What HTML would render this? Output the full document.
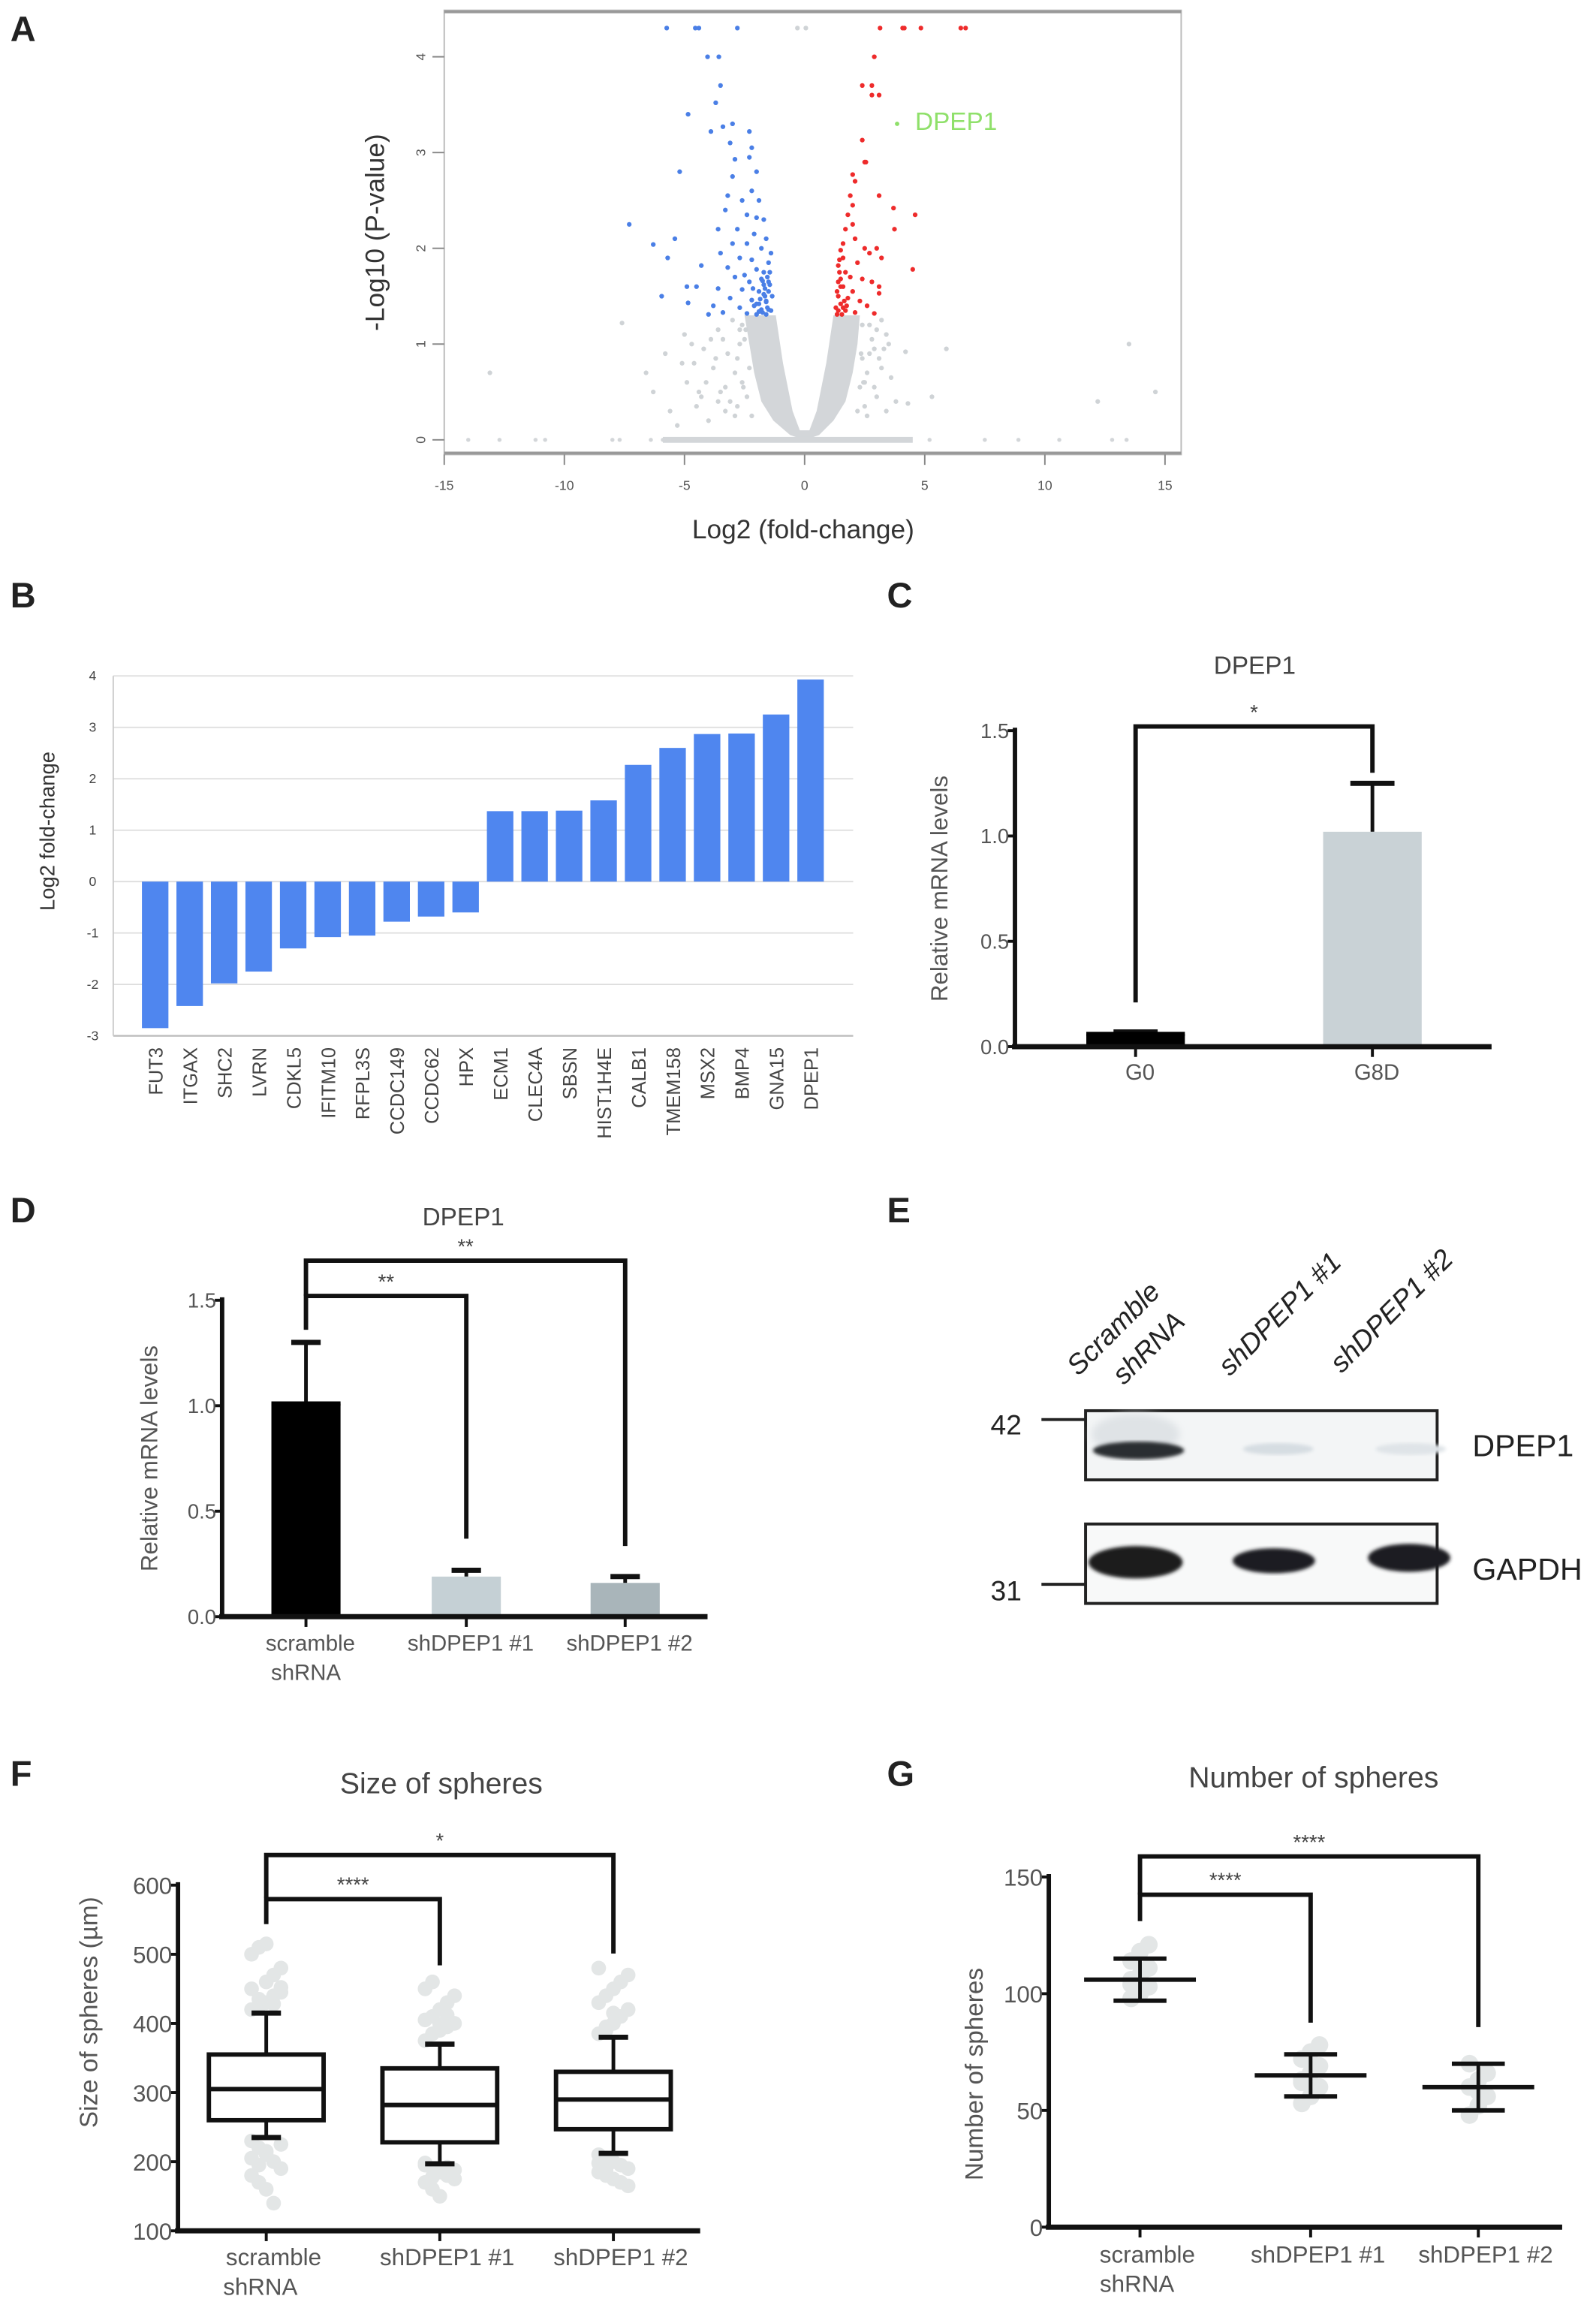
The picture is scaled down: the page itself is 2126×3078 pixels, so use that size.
<!DOCTYPE html>
<html><head><meta charset="utf-8"><style>
html,body{margin:0;padding:0;background:#fff}
svg{display:block}
text{font-family:"Liberation Sans",sans-serif}
</style></head><body>
<svg id="fig" xmlns="http://www.w3.org/2000/svg" width="2126" height="3078" viewBox="0 0 1085 1571" preserveAspectRatio="none">
<rect x="0" y="0" width="1085" height="1571" fill="#fff"/>
<g font-weight="bold" font-size="24" fill="#222">
<text x="7" y="28">A</text>
<text x="7" y="413">B</text>
<text x="603" y="413">C</text>
<text x="7" y="831">D</text>
<text x="603" y="831">E</text>
<text x="7" y="1214">F</text>
<text x="603" y="1214">G</text>
</g>
<g>
<g font-size="19" fill="#222" font-style="italic">
<text transform="translate(733,936) rotate(-45)">Scramble</text>
<text transform="translate(764,942) rotate(-45)">shRNA</text>
<text transform="translate(836,936) rotate(-45)">shDPEP1 #1</text>
<text transform="translate(912,934) rotate(-45)">shDPEP1 #2</text>
</g>
<defs>
<filter id="blur"><feGaussianBlur stdDeviation="2.5"/></filter>
<filter id="blur2"><feGaussianBlur stdDeviation="1.2"/></filter>
</defs>
<rect x="738" y="959" width="239" height="47" fill="#f3f5f6" stroke="#222" stroke-width="2"/>
<ellipse cx="772" cy="975" rx="30" ry="14" fill="#dfe3e6" filter="url(#blur)"/>
<ellipse cx="774" cy="986" rx="31" ry="6" fill="#2a2f33" filter="url(#blur2)"/>
<ellipse cx="869" cy="985" rx="24" ry="4" fill="#d6dde2" filter="url(#blur2)"/>
<ellipse cx="959" cy="985" rx="24" ry="4" fill="#dfe4e8" filter="url(#blur2)"/>
<rect x="738" y="1036" width="239" height="54" fill="#f8f9f9" stroke="#222" stroke-width="2"/>
<ellipse cx="772" cy="1062" rx="32" ry="11" fill="#1a1d1f" filter="url(#blur2)"/>
<ellipse cx="866" cy="1061" rx="28" ry="8.5" fill="#1c1f21" filter="url(#blur2)"/>
<ellipse cx="958" cy="1059" rx="28" ry="9.5" fill="#1c1f21" filter="url(#blur2)"/>
<line x1="708" y1="965" x2="738" y2="965" stroke="#222" stroke-width="2"/>
<line x1="708" y1="1077" x2="738" y2="1077" stroke="#222" stroke-width="2"/>
<text x="684" y="975" font-size="19" fill="#222" text-anchor="middle">42</text>
<text x="684" y="1088" font-size="19" fill="#222" text-anchor="middle">31</text>
<text x="1001" y="990" font-size="21" fill="#222">DPEP1</text>
<text x="1001" y="1074" font-size="21" fill="#222">GAPDH</text>
</g>
</svg>
<script>
// ===== Panel A data (volcano) =====
const volBlueX=[-5.74,-4.55,-4.4,-2.8,-4.04,-3.57,-3.5,-3.7,-4.85,-3.0,-3.4,-3.9,-2.3,-3.1,-2.2,-2.3,-2.9,-5.2,-3.0,-2.0,-2.2,-3.2,-2.6,-1.9,-3.3,-2.4,-2.0,-1.7,-7.3,-3.6,-2.8,-2.1,-1.6,-5.4,-3.0,-2.4,-6.3,-1.8,-3.5,-2.7,-5.7,-2.2,-1.5,-4.3,-3.2,-2.0,-1.7,-2.9,-2.3,-1.5,-4.9,-4.5,-3.6,-2.6,-1.9,-5.95,-3.1,-2.2,-1.6,-4.85,-3.8,-2.7,-1.8,-1.4,-3.4,-2.4,-2.0,-1.6,-4.0,-1.5,-1.7,-1.9,-1.45,-1.65,-1.8,-2.1,-1.55,-1.4,-1.75,-2.5,-2.15,-1.85,-1.5,-1.6,-1.7,-1.45,-1.55,-1.9,-2.0,-1.35,-1.65,-1.75];
const volBlueY=[4.3,4.3,4.3,4.3,4.0,4.0,3.7,3.52,3.4,3.3,3.27,3.22,3.22,3.1,3.05,2.95,2.93,2.8,2.75,2.8,2.6,2.55,2.5,2.5,2.4,2.35,2.32,2.3,2.25,2.2,2.2,2.15,2.1,2.1,2.05,2.05,2.04,2.0,1.95,1.9,1.9,1.88,1.85,1.82,1.8,1.78,1.75,1.7,1.65,1.65,1.6,1.6,1.58,1.57,1.55,1.5,1.48,1.46,1.45,1.43,1.4,1.38,1.36,1.35,1.33,1.32,1.31,1.31,1.31,1.55,1.62,1.42,1.75,1.5,1.68,1.4,1.38,1.95,1.33,1.72,1.58,1.47,1.36,1.44,1.52,1.62,1.7,1.34,1.42,1.5,1.58,1.66];
const volRedX=[3.14,4.08,4.15,4.84,6.5,6.7,2.9,2.4,2.8,2.8,3.1,2.4,2.55,2.5,2.0,2.1,1.9,3.1,2.0,3.7,4.6,1.8,2.0,3.74,1.7,2.1,1.6,3.0,2.5,1.5,2.7,3.2,1.6,2.2,1.4,4.5,1.7,1.9,2.4,1.4,2.8,3.1,1.6,2.0,3.1,1.4,1.8,2.3,1.5,2.6,1.3,1.7,2.1,1.35,2.9,1.55,1.45,1.5,1.65,1.35,1.75,1.4,1.5,1.6,1.45];
const volRedY=[4.3,4.3,4.3,4.3,4.3,4.3,4.0,3.7,3.7,3.6,3.6,3.13,2.9,2.9,2.77,2.7,2.55,2.55,2.45,2.42,2.35,2.35,2.25,2.2,2.2,2.1,2.05,2.0,2.0,1.98,1.95,1.9,1.9,1.85,1.82,1.78,1.75,1.7,1.68,1.65,1.65,1.6,1.6,1.55,1.53,1.5,1.48,1.45,1.42,1.4,1.38,1.35,1.33,1.31,1.32,1.31,1.75,1.6,1.45,1.55,1.4,1.35,1.68,1.38,1.88];
const volGrayX=[-0.3,0.05,-7.6,-13.1,13.5,14.6,12.2,5.9,4.2,5.3,4.3,-6.6,-5.8,-5.0,-6.3,-5.6,-4.9,-4.2,-3.6,-4.5,-3.3,-3.8,-2.8,-4.0,3.5,3.0,3.2,3.6,2.9,3.8,2.6,3.4,-5.3,2.4,-2.6,-3.2,-2.9,-4.6,-3.1,-2.7,2.7,3.0,2.5,-3.5,-4.1,3.3,-2.5,-2.8,-3.0,-2.6,-3.4,-2.4,-3.7,-2.9,-2.7,-4.4,-3.9,2.4,2.6,2.8,2.5,3.1,2.7,2.3,2.9,3.4,-2.3,-2.55,-2.45,2.35,2.45,-3.3,-3.6,3.2,-2.2,2.2,-5.1,-4.7,-4.3];
const volGrayY=[4.3,4.3,1.22,0.7,1.0,0.5,0.4,0.95,0.92,0.45,0.38,0.7,0.9,1.1,0.5,0.3,0.6,0.95,1.15,0.35,0.55,0.75,0.35,0.2,1.0,1.15,0.75,0.65,0.55,0.4,0.25,0.3,0.15,1.2,1.2,0.9,0.7,0.8,0.4,1.0,0.9,0.45,0.6,0.5,0.6,0.95,1.05,0.85,1.25,0.6,1.05,0.45,0.85,0.25,1.15,0.5,1.05,0.85,0.7,1.05,0.35,0.85,1.2,0.55,0.95,1.1,0.75,0.55,1.15,0.9,0.6,0.3,0.4,1.25,0.25,0.3,0.8,1.0,0.45];
const volBaseX=[-14,-12.7,-11.2,-10.8,-8,-7.7,-6.4,-5.9,-5.6,5.2,7.5,8.9,10.6,12.8,13.4];
const volDenseX=[-2.5,-2.3,-2.1,-1.8,-1.3,-0.6,0,0.6,1.2,1.7,2.0,2.2,2.3,1.2,0.9,0.5,0.2,-0.2,-0.5,-0.9,-1.2];
const volDenseY=[1.3,1.0,0.7,0.4,0.2,0.05,0,0.05,0.2,0.4,0.7,1.0,1.3,1.3,0.8,0.3,0.1,0.1,0.3,0.8,1.3];
const volXTicks=[-15,-10,-5,0,5,10,15];
const volYTicks=[0,1,2,3,4];
// ===== Panel B data =====
const genes=["FUT3","ITGAX","SHC2","LVRN","CDKL5","IFITM10","RFPL3S","CCDC149","CCDC62","HPX","ECM1","CLEC4A","SBSN","HIST1H4E","CALB1","TMEM158","MSX2","BMP4","GNA15","DPEP1"];
const geneFC=[-2.85,-2.42,-1.98,-1.75,-1.3,-1.08,-1.05,-0.78,-0.68,-0.6,1.37,1.37,1.38,1.58,2.27,2.6,2.87,2.88,3.25,3.93];
const fcTicks=[-3,-2,-1,0,1,2,3,4];
// ===== Panel C data =====
const cGroups=["G0","G8D"];
const cMeans=[0.06,1.02];
const cErr=[0.01,0.23];
const cTicks=["0.0","0.5","1.0","1.5"];
// ===== Panel D data =====
const dGroups=["scramble|shRNA","shDPEP1 #1","shDPEP1 #2"];
const dMeans=[1.01,0.19,0.16];
const dErr=[0.29,0.03,0.03];
const dTicks=["0.0","0.5","1.0","1.5"];
// ===== Panel F data =====
const fGroups=["scramble|shRNA","shDPEP1 #1","shDPEP1 #2"];
const fQ1=[260,228,247];
const fMed=[305,282,290];
const fQ3=[355,335,330];
const fWLo=[235,197,212];
const fWHi=[415,370,380];
const fOutHi1=[420,425,430,440,445,450,435,460,470,480,500,510,515,428,452];
const fOutLo1=[230,220,210,200,190,180,170,160,140,225,205,195,215];
const fOutHi2=[375,385,390,395,400,405,410,420,430,440,450,460,398,412];
const fOutLo2=[195,190,185,180,175,170,160,150,192,188,198,178];
const fOutHi3=[385,390,400,410,420,430,440,450,460,470,480,395,415];
const fOutLo3=[210,205,200,195,190,185,180,175,170,165,198,188];
const fTicks=[100,200,300,400,500,600];
// ===== Panel G data =====
const gGroups=["scramble|shRNA","shDPEP1 #1","shDPEP1 #2"];
const gMeans=[106,65,60];
const gSD=[9,9,10];
const gPts1=[98,100,103,106,108,111,114,118,121,104];
const gPts2=[53,56,60,63,66,69,72,75,78,62];
const gPts3=[48,52,56,60,63,66,70,58];
const gTicks=[0,50,100,150];

const NS="http://www.w3.org/2000/svg";
const svg=document.getElementById('fig');
function mk(tag,attrs,parent){const e=document.createElementNS(NS,tag);for(const k in attrs)e.setAttribute(k,attrs[k]);(parent||svg).appendChild(e);return e;}
function txt(s,attrs,parent){const e=mk('text',attrs,parent);e.textContent=s;return e;}

// ---------- Panel A ----------
(function(){
const xs=v=>547+v*(792-302)/30, ys=v=>299-v*65.1;
const g=mk('g',{});


const box=mk('rect',{x:302,y:7,width:501,height:302,fill:'none',stroke:'#bbb','stroke-width':1},g);


mk('line',{x1:302,y1:8,x2:803,y2:8,stroke:'#999','stroke-width':2},g);
mk('line',{x1:302,y1:308,x2:803,y2:308,stroke:'#999','stroke-width':2},g);
let pts=volDenseX.map((x,i)=>xs(x)+','+ys(volDenseY[i])).join(' ');
const poly=mk('polygon',{points:pts,fill:'#d3d6d9'},g);


const base=mk('rect',{x:xs(-5.9),y:ys(0)-2,width:xs(4.5)-xs(-5.9),height:4,fill:'#d3d6d9'},g);


volBaseX.forEach(x=>{const c=mk('circle',{cx:xs(x),cy:ys(0),r:1.4,fill:'#d3d6d9'},g);

});
volGrayX.forEach((x,i)=>{const c=mk('circle',{cx:xs(x),cy:ys(volGrayY[i]),r:1.6,fill:'#cfd3d6'},g);

});
volBlueX.forEach((x,i)=>{const c=mk('circle',{cx:xs(x),cy:ys(volBlueY[i]),r:1.6,fill:'#4a7fe6'},g);

});
volRedX.forEach((x,i)=>{const c=mk('circle',{cx:xs(x),cy:ys(volRedY[i]),r:1.6,fill:'#ee2b2b'},g);

});
const dp=mk('circle',{cx:xs(3.85),cy:ys(3.3),r:1.5,fill:'#8fe06a'},g);


const dl=txt('DPEP1',{x:xs(4.6),y:ys(3.25)+1,'font-size':17,fill:'#8fe06a'},g);


volXTicks.forEach(t=>{mk('line',{x1:xs(t),y1:309,x2:xs(t),y2:316,stroke:'#888'},g);
const l=txt(String(t),{x:xs(t),y:333,'font-size':9,fill:'#555','text-anchor':'middle'},g);

});
volYTicks.forEach(t=>{mk('line',{x1:294,y1:ys(t),x2:302,y2:ys(t),stroke:'#888'},g);
const l=txt(String(t),{transform:`translate(289,${ys(t)}) rotate(-90)`,'font-size':9,fill:'#555','text-anchor':'middle'},g);

});
const yt=txt('-Log10 (P-value)',{transform:'translate(261,158) rotate(-90)','font-size':18,fill:'#333','text-anchor':'middle'},g);


const xt=txt('Log2 (fold-change)',{x:546,y:366,'font-size':18,fill:'#333','text-anchor':'middle'},g);


})();

// ---------- Panel B ----------
(function(){
const ys=v=>599.3-v*34.95, xs=i=>105.5+i*23.45;
const g=mk('g',{});


fcTicks.forEach(t=>{mk('line',{x1:77,y1:ys(t),x2:580,y2:ys(t),stroke:t===-3?'#bbb':'#ddd','stroke-width':t===-3?1.2:0.9},g);
const l=txt(String(t),{x:63,y:ys(t)+3,'font-size':9,fill:'#444','text-anchor':'middle'},g);

});
mk('line',{x1:77,y1:ys(4),x2:77,y2:ys(-3),stroke:'#ccc'},g);
geneFC.forEach((v,i)=>{const y0=ys(0),y1=ys(v);
const r=mk('rect',{x:xs(i)-9,y:Math.min(y0,y1),width:18,height:Math.abs(y1-y0),fill:'#4f86ef'},g);


const l=txt(genes[i],{transform:`translate(${xs(i)+5},712) rotate(-90)`,'font-size':13,fill:'#444','text-anchor':'end'},g);

});
const yt=txt('Log2 fold-change',{transform:'translate(37,565) rotate(-90)','font-size':14,fill:'#333','text-anchor':'middle'},g);


})();

function barChart(o){
const g=mk('g',{});


const ys=v=>o.y0-v*o.unit;
const t=txt(o.title,{x:o.titleX,y:o.titleY,'font-size':17,fill:'#444','text-anchor':'middle'},g);


o.means.forEach((m,i)=>{const cx=o.xc[i];
const eb=mk('line',{x1:cx,y1:ys(m),x2:cx,y2:ys(m+o.err[i]),stroke:'#111','stroke-width':2.5},g);


mk('line',{x1:cx-o.cap,y1:ys(m+o.err[i]),x2:cx+o.cap,y2:ys(m+o.err[i]),stroke:'#111','stroke-width':3.5},g);
const r=mk('rect',{x:cx-o.bw/2,y:ys(m),width:o.bw,height:ys(0)-ys(m),fill:o.colors[i]},g);


if(o.colors[i]==='#000'){mk('line',{x1:cx-o.bw/2,y1:ys(m),x2:cx+o.bw/2,y2:ys(m),stroke:'#000','stroke-width':3},g);}
mk('line',{x1:cx,y1:ys(0),x2:cx,y2:ys(0)+7,stroke:'#111','stroke-width':2},g);
o.labels[i].split('|').forEach((s,k)=>{const l=txt(s,{x:cx+(k?0:3),y:o.labY+k*20,'font-size':15,fill:'#555','text-anchor':'middle'},g);

});
});
const ax=mk('line',{x1:o.ax,y1:ys(0)+1.5,x2:o.ax,y2:ys(1.5)-2,stroke:'#111','stroke-width':3},g);


const xa=mk('line',{x1:o.ax-2,y1:ys(0),x2:o.axEnd,y2:ys(0),stroke:'#111','stroke-width':3.5},g);


o.ticks.forEach(tk=>{const v=parseFloat(tk);mk('line',{x1:o.ax-5,y1:ys(v),x2:o.ax,y2:ys(v),stroke:'#111','stroke-width':2},g);
const l=txt(tk,{x:o.ax-4,y:ys(v)+5,'font-size':14,fill:'#555','text-anchor':'end'},g);

});
const yt=txt('Relative mRNA levels',{transform:`translate(${o.ytX},${ys(0.75)}) rotate(-90)`,'font-size':16,fill:'#555','text-anchor':'middle'},g);


return {g,ys};
}
function bracket(g,x1,x2,y,y1b,y2b,label){
const p=mk('path',{d:`M${x1},${y1b} L${x1},${y} L${x2},${y} L${x2},${y2b}`,fill:'none',stroke:'#111','stroke-width':3},g);


const t=txt(label,{x:(x1+x2)/2,y:y-5,'font-size':14,fill:'#444','text-anchor':'middle'},g);


}

(function(){
const c=barChart({name:'panel-c-bar-chart',y0:711.5,unit:143.2,xc:[772,933],bw:67,cap:15,means:cMeans,err:cErr,colors:['#000','#c9d2d6'],labels:cGroups,labY:734,ticks:cTicks,ax:690,axEnd:1014,title:'DPEP1',titleX:853,titleY:458,ytX:644});
bracket(c.g,772,933,c.ys(1.52),c.ys(0.21),c.ys(1.3),'*');
})();
(function(){
const c=barChart({name:'panel-d-bar-chart',y0:1099,unit:143.4,xc:[208,317,425],bw:47,cap:10,means:dMeans,err:dErr,colors:['#000','#c5d0d5','#a9b5ba'],labels:dGroups,labY:1122,ticks:dTicks,ax:151,axEnd:481,title:'DPEP1',titleX:315,titleY:833,ytX:107});
bracket(c.g,208,317,881,904,1046,'**');
bracket(c.g,208,425,857,881,1051,'**');
})();

(function(){
const ys=v=>1281.5-(v-600)*0.47, xc=[181,299,417];
const g=mk('g',{});


const t=txt('Size of spheres',{x:300,y:1219,'font-size':20,fill:'#444','text-anchor':'middle'},g);


const outs=[[fOutHi1,fOutLo1],[fOutHi2,fOutLo2],[fOutHi3,fOutLo3]];
outs.forEach((arr,i)=>arr.forEach(a=>a.forEach((v,k)=>{const off=((k%5)-2)*5;
const c=mk('circle',{cx:xc[i]+off,cy:ys(v),r:5,fill:'#e3e6e6'},g);

})));
fGroups.forEach((gname,i)=>{const cx=xc[i];
mk('line',{x1:cx,y1:ys(fQ3[i]),x2:cx,y2:ys(fWHi[i]),stroke:'#111','stroke-width':2.5},g);
mk('line',{x1:cx,y1:ys(fQ1[i]),x2:cx,y2:ys(fWLo[i]),stroke:'#111','stroke-width':2.5},g);
mk('line',{x1:cx-10,y1:ys(fWHi[i]),x2:cx+10,y2:ys(fWHi[i]),stroke:'#111','stroke-width':3.5},g);
mk('line',{x1:cx-10,y1:ys(fWLo[i]),x2:cx+10,y2:ys(fWLo[i]),stroke:'#111','stroke-width':3.5},g);
const b=mk('rect',{x:cx-39,y:ys(fQ3[i]),width:78,height:ys(fQ1[i])-ys(fQ3[i]),fill:'none',stroke:'#111','stroke-width':3},g);


mk('line',{x1:cx-39,y1:ys(fMed[i]),x2:cx+39,y2:ys(fMed[i]),stroke:'#111','stroke-width':3},g);
mk('line',{x1:cx,y1:ys(100),x2:cx,y2:ys(100)+7,stroke:'#111','stroke-width':2},g);
gname.split('|').forEach((s,k)=>{const l=txt(s,{x:cx+(k?-4:5),y:1540+k*20,'font-size':16,fill:'#555','text-anchor':'middle'},g);

});
});
const ya=mk('line',{x1:121,y1:ys(100),x2:121,y2:ys(600)-2,stroke:'#111','stroke-width':3},g);


const xa=mk('line',{x1:119,y1:ys(100),x2:476,y2:ys(100),stroke:'#111','stroke-width':3.5},g);


fTicks.forEach(v=>{mk('line',{x1:116,y1:ys(v),x2:121,y2:ys(v),stroke:'#111','stroke-width':2},g);
const l=txt(String(v),{x:117,y:ys(v)+6,'font-size':16,fill:'#555','text-anchor':'end'},g);

});
const yt=txt('Size of spheres (µm)',{transform:'translate(66,1368) rotate(-90)','font-size':17,fill:'#555','text-anchor':'middle'},g);


bracket(g,181,299,1291,1308,1336,'****');
bracket(g,181,417,1261,1290,1328,'*');
})();

(function(){
const ys=v=>1514-v*1.587, xc=[775,891,1005];
const g=mk('g',{});


const t=txt('Number of spheres',{x:893,y:1215,'font-size':20,fill:'#444','text-anchor':'middle'},g);


[gPts1,gPts2,gPts3].forEach((arr,i)=>arr.forEach((v,k)=>{const off=((k%3)-1)*6;
const c=mk('circle',{cx:xc[i]+off,cy:ys(v),r:6,fill:'#e3e6e6'},g);

}));
gGroups.forEach((gname,i)=>{const cx=xc[i],m=gMeans[i],s=gSD[i];
const ml=mk('line',{x1:cx-38,y1:ys(m),x2:cx+38,y2:ys(m),stroke:'#111','stroke-width':3},g);


mk('line',{x1:cx,y1:ys(m-s),x2:cx,y2:ys(m+s),stroke:'#111','stroke-width':2.5},g);
mk('line',{x1:cx-18,y1:ys(m+s),x2:cx+18,y2:ys(m+s),stroke:'#111','stroke-width':3},g);
mk('line',{x1:cx-18,y1:ys(m-s),x2:cx+18,y2:ys(m-s),stroke:'#111','stroke-width':3},g);
mk('line',{x1:cx,y1:ys(0),x2:cx,y2:ys(0)+7,stroke:'#111','stroke-width':2},g);
gname.split('|').forEach((s2,k)=>{const l=txt(s2,{x:cx+(k?-2:5),y:1538+k*20,'font-size':16,fill:'#555','text-anchor':'middle'},g);

});
});
const ya=mk('line',{x1:713,y1:ys(0),x2:713,y2:ys(150)-2,stroke:'#111','stroke-width':3},g);


const xa=mk('line',{x1:711,y1:ys(0),x2:1062,y2:ys(0),stroke:'#111','stroke-width':3.5},g);


gTicks.forEach(v=>{mk('line',{x1:708,y1:ys(v),x2:713,y2:ys(v),stroke:'#111','stroke-width':2},g);
const l=txt(String(v),{x:709,y:ys(v)+6,'font-size':16,fill:'#555','text-anchor':'end'},g);

});
const yt=txt('Number of spheres',{transform:'translate(668,1410) rotate(-90)','font-size':17,fill:'#555','text-anchor':'middle'},g);


bracket(g,775,891,1288,1306,1375,'****');
bracket(g,775,1005,1262,1288,1378,'****');
})();
</script>
</body></html>
